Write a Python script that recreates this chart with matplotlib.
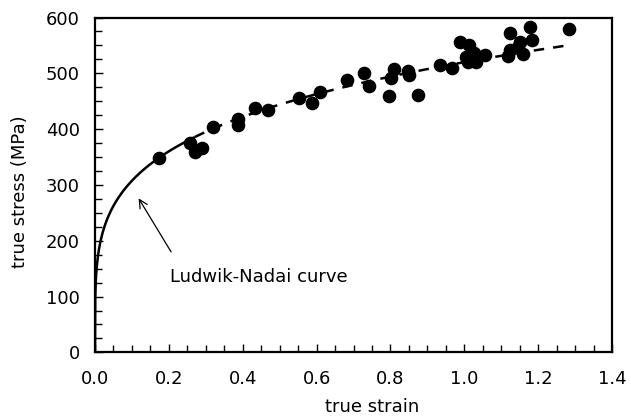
import numpy as np
import matplotlib
matplotlib.use("Agg")
import matplotlib.pyplot as plt
from matplotlib.ticker import MultipleLocator

plt.rcParams['font.family'] = ['DejaVu Sans']

# measured data (true strain, true stress in MPa)
strain = [0.173, 0.257, 0.289, 0.271, 0.320, 0.388, 0.388, 0.433, 0.469,
          0.553, 0.587, 0.609, 0.682, 0.727, 0.743, 0.796, 0.801, 0.810,
          0.848, 0.850, 0.875, 0.934, 0.966, 0.988, 1.013, 1.005, 1.010,
          1.032, 1.026, 1.056, 1.124, 1.178, 1.183, 1.151, 1.124, 1.118,
          1.159, 1.145, 1.284]
stress = [348, 376, 367, 359, 404, 419, 407, 437, 434,
          456, 446, 467, 488, 501, 477, 460, 491, 507,
          504, 497, 462, 515, 509, 556, 550, 529, 520,
          520, 536, 532, 572, 583, 560, 556, 542, 531,
          535, 547, 579]

# Ludwik-Nadai fit parameters: sigma = K * eps^n
K = 520.0
n_exp = 0.228
solid_end = 0.27
dash_end = 1.28

xticks = [0.0, 0.2, 0.4, 0.6, 0.8, 1.0, 1.2, 1.4]
yticks = [0, 100, 200, 300, 400, 500, 600]

fig = plt.figure(figsize=(6.31, 4.17), dpi=100)
ax = fig.add_axes([0.1506, 0.155, 0.8194, 0.803])

e1 = np.linspace(0, solid_end, 400)
e2 = np.linspace(solid_end, dash_end, 200)
ax.plot(e1, K * e1 ** n_exp, color='black', lw=1.8, solid_capstyle='butt')
ax.plot(e2, K * e2 ** n_exp, color='black', lw=1.8, dashes=[4.2, 3.6])
ax.plot(strain, stress, 'o', color='black', ms=8.8, mec='black', zorder=3)

ax.annotate('', xy=(0.118, 276), xytext=(0.206, 180),
            arrowprops=dict(arrowstyle='->', lw=0.9, color='black',
                            shrinkA=0, shrinkB=0, mutation_scale=15))
ax.text(0.203, 126.5, 'Ludwik-Nadai curve', fontsize=13,
        ha='left', va='baseline')

ax.set_xlim(0, 1.4)
ax.set_ylim(0, 600)
ax.set_xticks(xticks)
ax.set_yticks(yticks)
ax.set_xticklabels([f'{v:.1f}' for v in xticks])
ax.set_yticklabels([str(v) for v in yticks])
ax.xaxis.set_minor_locator(MultipleLocator(0.05))
ax.yaxis.set_minor_locator(MultipleLocator(25))
ax.tick_params(which='both', direction='in', top=False, right=False,
               labelsize=13, width=1.0)
ax.tick_params(which='major', length=6)
ax.tick_params(which='minor', length=5)
ax.tick_params(axis='x', which='major', pad=13)
ax.tick_params(axis='y', which='major', pad=11)
for s in ax.spines.values():
    s.set_linewidth(1.6)

ax.set_xlabel('true strain', fontsize=13)
ax.xaxis.set_label_coords(0.536, -0.135)
ax.set_ylabel('true stress (MPa)', fontsize=13)
ax.yaxis.set_label_coords(-0.127, 0.48)

fig.savefig('out.png', dpi=100)
